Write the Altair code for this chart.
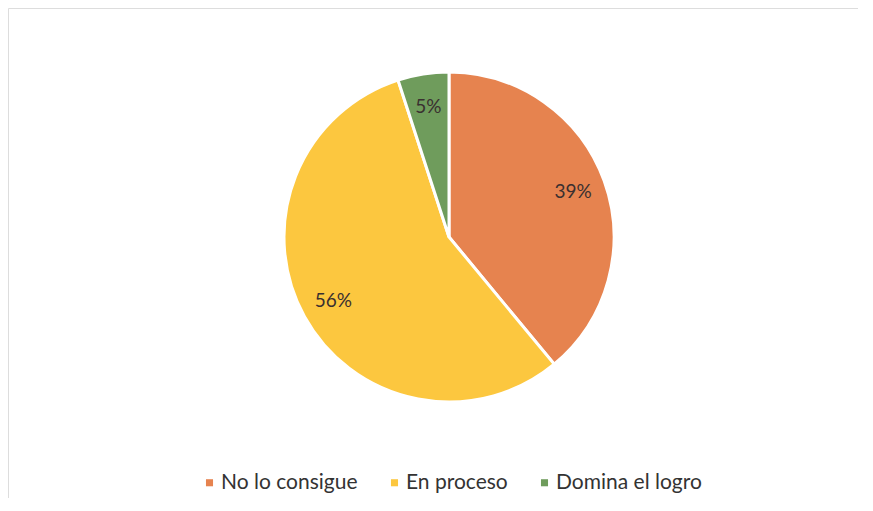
import altair as alt
import pandas as pd

categories = ["No lo consigue", "En proceso", "Domina el logro"]
values = [39, 56, 5]
labels = ["39%", "56%", "5%"]
colors = ["#E6834F", "#FCC73F", "#6F9C5C"]

df = pd.DataFrame({"cat": categories, "val": values, "lab": labels, "ord": [0, 1, 2]})

base = alt.Chart(df).encode(
    theta=alt.Theta("val:Q", stack=True),
    order=alt.Order("ord:Q"),
    x=alt.value(441),
    y=alt.value(229),
)

pie = base.mark_arc(radius=165, stroke="white", strokeWidth=3).encode(
    color=alt.Color(
        "cat:N",
        sort=categories,
        scale=alt.Scale(domain=categories, range=colors),
        legend=alt.Legend(
            title=None,
            orient="none",
            legendX=191,
            legendY=464,
            direction="horizontal",
            symbolType="square",
            symbolSize=50,
            symbolStrokeWidth=0,
            labelFont="Lato",
            labelFontSize=21,
            labelColor="#333333",
            labelOffset=1,
            columnPadding=26,
        ),
    )
)

text = base.mark_text(radius=132, font="Lato", fontSize=19, color="#3a3030").encode(
    text="lab:N"
)

chart = (
    (pie + text)
    .properties(width=850, height=490, padding=0, autosize=alt.AutoSizeParams(type="none"))
    .configure_view(strokeWidth=0, stroke="transparent")
    .configure(background="white")
)

chart.save("out.html", embed_options={"renderer": "svg", "actions": False})
